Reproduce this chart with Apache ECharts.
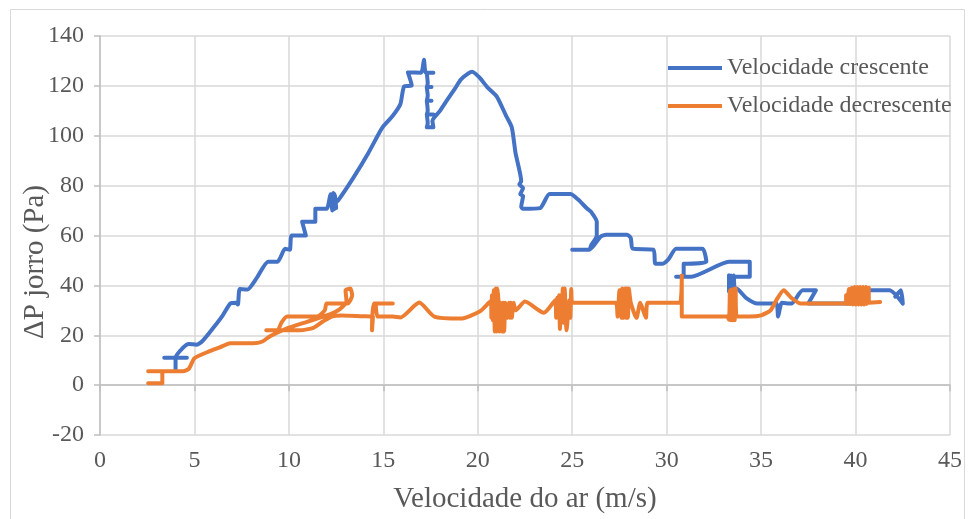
<!DOCTYPE html>
<html>
<head>
<meta charset="utf-8">
<script src="https://cdn.jsdelivr.net/npm/echarts@6/dist/echarts.min.js"></script>
<style>html,body{margin:0;padding:0;background:#fff}#c{width:969px;height:519px}</style>
</head>
<body>
<div id="c"></div>
<script>
var xTitle = 'Velocidade do ar (m/s)';
var yTitle = 'ΔP jorro (Pa)';
var seriesNames = ['Velocidade crescente', 'Velocidade decrescente'];

var crescente = [
[3.4,11],[4.6,11],[4.0,11],[4.0,6],[4.0,11],[4.4,15],[4.7,16.5],[5.1,16.2],[5.4,17.5],[6.0,23],[6.5,28],[6.9,32.7],[7.2,33],[7.3,32.3],[7.4,38.5],[7.8,38.3],[8.3,43],[8.9,49.5],[9.4,49.5],[9.8,54.7],[10.05,54.3],[10.15,60],[10.9,60],[10.7,65.5],[11.4,65.5],[11.4,70.7],[12.0,70.7],[12.2,76.5],[12.3,70],[12.35,77],[12.4,70.5],[12.45,76.5],[12.5,71],[12.3,72],[12.6,74],[13.4,83],[14.2,93],[14.8,101.4],[15.0,103.8],[15.5,108],[15.9,112.6],[16.1,119.8],[16.5,120.2],[16.3,125.4],[17.0,125.3],[17.15,130.5],[17.25,125.3],[17.65,125.3],[17.3,125.3],[17.35,121],[17.3,119.5],[17.55,119.5],[17.3,119.5],[17.35,116],[17.3,114],[17.55,114],[17.3,114],[17.35,110],[17.3,108.5],[17.65,108.5],[17.3,108.5],[17.35,105],[17.3,103.4],[17.65,103.4],[17.6,106],[18.0,110],[18.4,114.6],[18.8,119],[19.1,122.5],[19.5,125],[19.7,125.7],[20.1,123.3],[20.5,119.5],[21.0,115.8],[21.5,108],[21.8,103.4],[22.0,93],[22.3,81.8],[22.2,80.5],[22.4,79],[22.25,76.5],[22.4,75.9],[22.3,71.5],[22.4,70.7],[23.3,71],[23.8,76.6],[24.9,76.6],[25.3,74.5],[25.8,70.7],[26.0,69.5],[26.3,65.5],[26.3,60],[26.0,56],[25.9,54.3],[25.0,54.3],[25.9,54.3],[26.5,59.5],[26.8,60.3],[27.9,60.3],[28.1,59],[28.2,54.7],[29.3,54.3],[29.4,48.7],[29.8,48.7],[30.1,50.5],[30.5,54.7],[31.9,54.7],[32.1,49.5],[31.1,48.7],[30.9,48.7],[30.9,43.5],[30.5,43.5],[31.3,43.5],[33.3,49.5],[34.4,49.5],[34.4,43.5],[33.4,43.5],[33.3,44],[33.3,37.5],[33.4,44],[33.45,37.8],[33.55,44],[33.6,38],[33.7,38.7],[34.2,35],[34.8,32.7],[35.8,32.7],[35.9,27.5],[36.1,33],[36.6,32.7],[37.2,38],[37.9,38],[37.5,32.7],[39.7,32.7],[40.8,38],[41.8,38],[42.5,32.7],[42.4,38],[42.1,35.5]
];

var decrescente = [
[41.3,33.3],[40.7,33],[40.7,39],[40.6,32.5],[40.55,39.3],[40.45,32.3],[40.4,39.3],[40.3,32.3],[40.25,39.3],[40.15,32.3],[40.1,39.3],[40.0,32.3],[39.95,39.3],[39.85,32.3],[39.8,39],[39.7,32.5],[39.65,38.5],[39.55,32.5],[39.5,36],[39.5,32.7],[37.1,32.7],[36.6,35],[36.2,38],[35.8,34],[35.5,30],[35.0,28],[34.4,27.5],[33.7,27.5],[33.65,38.7],[33.6,26],[33.55,38.5],[33.5,26],[33.45,38.3],[33.4,26],[33.35,38],[33.3,26.2],[33.2,27.5],[30.8,27.5],[30.8,44],[30.7,33],[29.0,33],[28.9,27],[28.6,33],[28.4,27],[28.1,33],[28.0,38.7],[27.95,27],[27.9,38.7],[27.85,27],[27.8,38.7],[27.7,27],[27.65,38.7],[27.6,27],[27.5,38],[27.4,27.5],[27.3,33],[25.0,33],[24.95,38.5],[24.9,27],[24.85,34],[24.7,22],[24.6,38.7],[24.55,25],[24.5,38.7],[24.45,26],[24.4,36],[24.35,22.5],[24.3,36],[24.25,27],[24.2,35],[24.15,27],[24.1,34],[23.5,29],[22.5,33.5],[22.0,30],[21.9,33],[21.8,27],[21.75,33],[21.7,27],[21.65,33],[21.55,27],[21.45,33],[21.4,21.5],[21.35,33],[21.3,21.5],[21.2,33],[21.15,21.5],[21.1,33],[21.05,38.7],[21.0,21.5],[20.95,38.7],[20.9,21.5],[20.85,38],[20.8,26],[20.75,36],[20.72,27],[20.7,33.5],[20.6,33.1],[20.1,29.5],[19.1,26.7],[17.7,27.5],[16.9,33.1],[15.9,27.1],[15.5,27.5],[14.7,27.5],[14.6,32.7],[15.5,32.7],[14.5,32.7],[14.4,22],[14.45,27.5],[13.9,27.6],[12.8,27.9],[12.3,27.6],[11.8,25.5],[11.3,23],[10.6,22],[8.8,22],[9.4,22],[9.6,25],[9.9,27.5],[11.5,27.5],[11.9,30],[12.0,32.7],[13.1,32.7],[13.35,36],[13.25,38.7],[13.0,38],[13.05,33.5],[12.7,30.5],[12.2,28.5],[11.0,25.5],[9.9,22.8],[9.0,19.6],[8.6,17.5],[8.1,16.8],[6.9,16.8],[6.3,15],[5.8,13.6],[5.0,10.8],[4.7,6.5],[4.4,5.6],[2.55,5.6],[3.3,5.6],[3.3,0.8],[2.55,0.8]
];

var FONT = '"Liberation Serif", "Times New Roman", serif';
var TXT = '#595959';
var chart = echarts.init(document.getElementById('c'), null, {renderer: 'canvas'});
chart.setOption({
  animation: false,
  backgroundColor: '#ffffff',
  color: ['#4472C4', '#ED7D31'],
  textStyle: {fontFamily: FONT},
  grid: {left: 100, right: 19, top: 36, bottom: 82, containLabel: false},
  graphic: [
    {type: 'rect', silent: true, shape: {x: 10.5, y: 9.5, width: 954, height: 530},
     style: {fill: 'none', stroke: '#D9D9D9', lineWidth: 1}},
    {type: 'text', silent: true, x: 35, y: 262, rotation: Math.PI / 2,
     style: {text: yTitle, font: '29px ' + FONT, fill: TXT, align: 'center', verticalAlign: 'middle'}}
  ],
  legend: {
    orient: 'vertical', left: 663, top: 51, itemWidth: 54, itemHeight: 4, itemGap: 14,
    icon: 'rect',
    textStyle: {fontFamily: FONT, fontSize: 24, color: TXT, lineHeight: 24},
    data: seriesNames
  },
  xAxis: [
    {type: 'value', min: 0, max: 45, interval: 5,
     axisLine: {show: false, onZero: false}, axisTick: {show: false},
     axisLabel: {fontFamily: FONT, fontSize: 24, color: TXT, margin: 14},
     splitLine: {show: true, lineStyle: {color: '#D9D9D9', width: 1.5}},
     name: xTitle, nameLocation: 'middle', nameGap: 50,
     nameTextStyle: {fontFamily: FONT, fontSize: 29, color: TXT}},
    {type: 'value', min: 0, max: 45, interval: 5, position: 'bottom',
     axisLine: {show: true, onZero: true, lineStyle: {color: '#BFBFBF', width: 1.5}},
     axisTick: {show: true, inside: false, length: 6, lineStyle: {color: '#BFBFBF', width: 1.5}},
     axisLabel: {show: false}, splitLine: {show: false}}
  ],
  yAxis: {
    type: 'value', min: -20, max: 140, interval: 20,
    axisLine: {show: true, lineStyle: {color: '#BFBFBF', width: 1.5}},
    axisTick: {show: true, length: 6, lineStyle: {color: '#BFBFBF', width: 1.5}},
    axisLabel: {fontFamily: FONT, fontSize: 24, color: TXT, margin: 16},
    splitLine: {show: true, lineStyle: {color: '#D9D9D9', width: 1.5}}
  },
  series: [
    {name: seriesNames[0], type: 'line', xAxisIndex: 0, data: crescente, symbol: 'none',
     smooth: 0.2, lineStyle: {width: 4, color: '#4472C4', cap: 'round', join: 'round'}, z: 3},
    {name: seriesNames[1], type: 'line', xAxisIndex: 0, data: decrescente, symbol: 'none',
     smooth: 0.2, lineStyle: {width: 4, color: '#ED7D31', cap: 'round', join: 'round'}, z: 4}
  ]
});
</script>
</body>
</html>
